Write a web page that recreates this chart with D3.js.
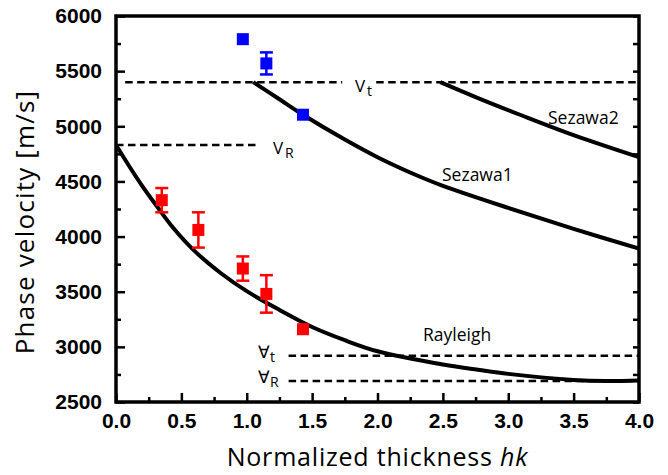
<!DOCTYPE html>
<html>
<head>
<meta charset="utf-8">
<script src="https://cdn.jsdelivr.net/npm/d3@7"></script>
<style>
  body { margin: 0; background: #fff; }
  .tick text { font-family: "Liberation Sans", Arial, sans-serif; font-weight: bold; font-size: 21px; fill: #000; }
  .lbl { font-family: "Open Sans", "Noto Sans", sans-serif; fill: #000; }
</style>
</head>
<body>
<div id="chart"></div>
<script>
// curves [hk, velocity]
const rayleigh = [[0,4830],[0.1,4640],[0.2,4460],[0.3,4295],[0.44,4075],[0.6,3870],[0.8,3670],[1.0,3505],[1.25,3335],[1.5,3180],[1.75,3060],[2.0,2960],[2.5,2840],[2.78,2790],[3.0,2755],[3.5,2700],[3.75,2690],[4.0,2695]];
const sezawa1 = [[1.05,5400],[1.25,5245],[1.43,5105],[1.75,4880],[2.0,4720],[2.33,4540],[2.5,4460],[3.0,4260],[3.5,4070],[4.0,3890]];
const sezawa2 = [[2.48,5400],[2.75,5265],[3.1,5100],[3.5,4920],[4.0,4720]];

// measured points [hk, velocity, error]
const redPts = [[0.35,4330,110],[0.63,4060,160],[0.97,3710,110],[1.15,3480,170],[1.43,3160,0]];
const bluePts = [[0.97,5790,0],[1.15,5570,100],[1.43,5105,0]];

// reference velocities: value, x-from, x-to
const refLines = [[5400,0.07,1.73],[5400,1.99,4.0],[4830,0,1.1],[2920,1.32,4.0],[2690,1.32,4.0]];

const xTicks = [0,0.5,1,1.5,2,2.5,3,3.5,4];
const yTicks = [2500,3000,3500,4000,4500,5000,5500,6000];

let margin = {top: 16, right: 29, bottom: 73, left: 116},
    W = 668, H = 475,
    width = W - margin.left - margin.right,
    height = H - margin.top - margin.bottom;

let x = d3.scaleLinear().domain([0,4]).range([0,width]);
let y = d3.scaleLinear().domain([2500,6000]).range([height,0]);

let svg = d3.select("#chart").append("svg")
  .attr("width", W).attr("height", H)
  .append("g")
  .attr("transform", "translate(" + margin.left + "," + margin.top + ")");

svg.append("clipPath").attr("id","clip").append("rect")
  .attr("width", width).attr("height", height);

// minor ticks
let minorX = d3.range(0.25, 4, 0.5), minorY = d3.range(2750, 6000, 500);
svg.append("g").attr("transform","translate(0," + height + ")")
  .call(d3.axisBottom(x).tickValues(minorX).tickSize(-5).tickFormat(""))
  .call(g => g.select(".domain").remove());
svg.append("g")
  .call(d3.axisLeft(y).tickValues(minorY).tickSize(-5).tickFormat(""))
  .call(g => g.select(".domain").remove());
svg.append("g").attr("transform","translate(" + width + ",0)")
  .call(d3.axisRight(y).tickValues(minorY.concat(yTicks)).tickSize(-6).tickFormat(""))
  .call(g => g.select(".domain").remove());

let xAxis = svg.append("g").attr("transform","translate(0," + height + ")")
  .call(d3.axisBottom(x).tickValues(xTicks).tickSize(-9).tickPadding(11).tickFormat(d3.format(".1f")));
let yAxis = svg.append("g")
  .call(d3.axisLeft(y).tickValues(yTicks).tickSize(-9).tickPadding(14).tickFormat(d3.format("d")));
[xAxis, yAxis].forEach(a => a.select(".domain").remove());
svg.selectAll(".tick line").attr("stroke","#000").attr("stroke-width",2.5);

// frame
svg.append("rect").attr("width", width).attr("height", height)
  .attr("fill","none").attr("stroke","#000").attr("stroke-width",3.5);

// dashed reference lines
svg.selectAll("line.ref").data(refLines).enter().append("line")
  .attr("class","ref")
  .attr("x1", d => x(d[1])).attr("x2", d => x(d[2]))
  .attr("y1", d => y(d[0])).attr("y2", d => y(d[0]))
  .attr("stroke","#000").attr("stroke-width",2.5)
  .attr("stroke-dasharray","7.5 4.5");

// dispersion curves
let valueline = d3.line().curve(d3.curveCatmullRom)
  .x(d => x(d[0])).y(d => y(d[1]));
[rayleigh, sezawa1, sezawa2].forEach(c => {
  svg.append("path").datum(c)
    .attr("d", valueline)
    .attr("fill","none").attr("stroke","#000").attr("stroke-width",4)
    .attr("clip-path","url(#clip)");
});

// points with error bars
function drawPts(data, color) {
  let g = svg.append("g");
  let e = data.filter(d => d[2] > 0);
  g.selectAll("line.eb").data(e).enter().append("line")
    .attr("x1", d => x(d[0])).attr("x2", d => x(d[0]))
    .attr("y1", d => y(d[1] - d[2])).attr("y2", d => y(d[1] + d[2]))
    .attr("stroke", color).attr("stroke-width", 2.5);
  ["top","bot"].forEach(k => {
    g.selectAll("line.cap" + k).data(e).enter().append("line")
      .attr("x1", d => x(d[0]) - 6.5).attr("x2", d => x(d[0]) + 6.5)
      .attr("y1", d => y(k == "top" ? d[1] + d[2] : d[1] - d[2]))
      .attr("y2", d => y(k == "top" ? d[1] + d[2] : d[1] - d[2]))
      .attr("stroke", color).attr("stroke-width", 2.5);
  });
  g.selectAll("rect").data(data).enter().append("rect")
    .attr("x", d => x(d[0]) - 6).attr("y", d => y(d[1]) - 6)
    .attr("width", 12).attr("height", 12)
    .attr("fill", color);
}
drawPts(redPts, "#ff0000");
drawPts(bluePts, "#0000ff");

// curve / line labels
function label(t, sub, px, py, size) {
  let tx = svg.append("text").attr("class","lbl")
    .attr("x", px).attr("y", py).style("font-size", size + "px").text(t);
  if (sub) tx.append("tspan").attr("dy", 4).style("font-size", (size - 3) + "px").text(sub);
}
label("Sezawa2", null, 432, 108, 17.5);
label("Sezawa1", null, 326, 165, 17.5);
label("Rayleigh", null, 307, 325, 17.5);
label("V", null, 239, 76, 17); label("", "t", 251, 76, 17);
label("V", null, 157, 138, 17); label("", "R", 169, 138, 17);
label("\u2200", null, 142, 342, 17); label("", "t", 154, 342, 17);
label("\u2200", null, 142, 367, 17); label("", "R", 154, 367, 17);

// axis titles
let xt = svg.append("text").attr("class","lbl")
  .attr("x", width / 2).attr("y", height + 64)
  .attr("text-anchor","middle").style("font-size","25px").style("letter-spacing","0.8px")
  .text("Normalized thickness ");
xt.append("tspan").style("font-style","italic").text("hk");

svg.append("text").attr("class","lbl")
  .attr("transform","translate(" + (-82) + "," + (height / 2 + 13) + ") rotate(-90)")
  .attr("text-anchor","middle").style("font-size","26px").style("letter-spacing","1.2px")
  .text("Phase velocity [m/s]");
</script>
</body>
</html>
